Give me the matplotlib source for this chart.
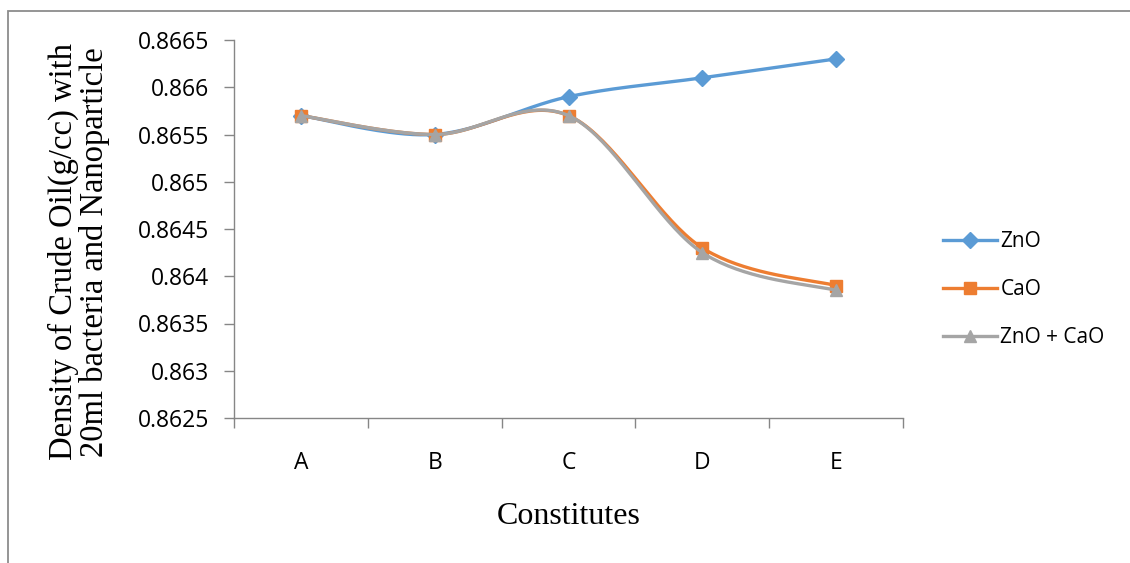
import numpy as np
import matplotlib.pyplot as plt
from matplotlib.patches import Rectangle

categories = ["A", "B", "C", "D", "E"]
zno = [0.8657, 0.8655, 0.8659, 0.8661, 0.8663]
cao = [0.8657, 0.8655, 0.8657, 0.8643, 0.8639]
zno_cao = [0.8657, 0.8655, 0.8657, 0.86425, 0.86385]
yticks = [0.8625, 0.863, 0.8635, 0.864, 0.8645, 0.865, 0.8655, 0.866, 0.8665]
ytick_labels = ["0.8625", "0.863", "0.8635", "0.864", "0.8645", "0.865", "0.8655", "0.866", "0.8665"]


def smooth(x, y, n=40):
    # Excel-style smoothed line: Catmull-Rom as cubic Bezier segments
    x = np.asarray(x, float)
    y = np.asarray(y, float)
    px = np.concatenate([[x[0]], x, [x[-1]]])
    py = np.concatenate([[y[0]], y, [y[-1]]])
    xs, ys = [], []
    t = np.linspace(0, 1, n)
    for i in range(1, len(px) - 2):
        p0 = np.array([px[i], py[i]])
        p3 = np.array([px[i + 1], py[i + 1]])
        c1 = p0 + (np.array([px[i + 1], py[i + 1]]) - np.array([px[i - 1], py[i - 1]])) / 6
        c2 = p3 - (np.array([px[i + 2], py[i + 2]]) - np.array([px[i], py[i]])) / 6
        b = ((1 - t) ** 3)[:, None] * p0 + (3 * (1 - t) ** 2 * t)[:, None] * c1 \
            + (3 * (1 - t) * t ** 2)[:, None] * c2 + (t ** 3)[:, None] * p3
        xs.extend(b[:, 0])
        ys.extend(b[:, 1])
    return xs, ys


fig = plt.figure(figsize=(11.3, 5.63), dpi=100)
ax = fig.add_axes([234 / 1130, 1 - 418 / 563, (903 - 234) / 1130, (418 - 40) / 563])

x = np.arange(len(categories))
series = [
    ("ZnO", zno, "#5B9BD5", "D", 8),
    ("CaO", cao, "#ED7D31", "s", 8),
    ("ZnO + CaO", zno_cao, "#A5A5A5", "^", 8.5),
]
for name, vals, col, mk, ms in series:
    sx, sy = smooth(x, vals)
    ax.plot(sx, sy, color=col, lw=2.4, solid_capstyle="round")
    ax.plot(x, vals, ls="none", marker=mk, ms=ms, color=col)
    ax.plot([], [], color=col, lw=2.4, marker=mk, ms=ms, label=name)

ax.set_xlim(-0.5, 4.5)
ax.set_ylim(0.8625, 0.8665)
ax.set_yticks(yticks)
ax.set_yticklabels(ytick_labels)
ax.set_xticks(x)
ax.set_xticklabels(categories)
ax.set_xticks(np.arange(-0.5, 5, 1), minor=True)
ax.tick_params(axis="x", which="major", length=0, pad=24)
ax.tick_params(axis="x", which="minor", length=7, color="#868686", width=1)
ax.tick_params(axis="y", length=7, color="#868686", width=1, pad=11)
for lab in ax.get_xticklabels() + ax.get_yticklabels():
    lab.set_family("Open Sans")
    lab.set_fontsize(16.5)

for s in ["top", "right"]:
    ax.spines[s].set_visible(False)
for s in ["left", "bottom"]:
    ax.spines[s].set_color("#868686")
    ax.spines[s].set_linewidth(1)

fig.text(79 / 1130, 1 - 252 / 563,
         "Density of Crude Oil(g/cc) with\n20ml bacteria and Nanoparticle",
         family="Liberation Serif", fontsize=23.5, rotation=90, linespacing=1.0,
         ha="center", va="center", multialignment="center")
ax.set_xlabel("Constitutes", family="Liberation Serif", fontsize=23, labelpad=19)

leg = ax.legend(loc="center left", bbox_to_anchor=(1.0598, 0.339), frameon=False,
                prop={"family": "Open Sans", "size": 15}, handlelength=2.6,
                handletextpad=0.15, labelspacing=1.3, borderpad=0, borderaxespad=0)

fig.patches.append(Rectangle((8 / 1130, -0.1), 1.2, 1 - 11 / 563 + 0.1,
                             transform=fig.transFigure, fill=False,
                             edgecolor="#8c8c8c", lw=1.3))

plt.savefig("out.png", format="png")
